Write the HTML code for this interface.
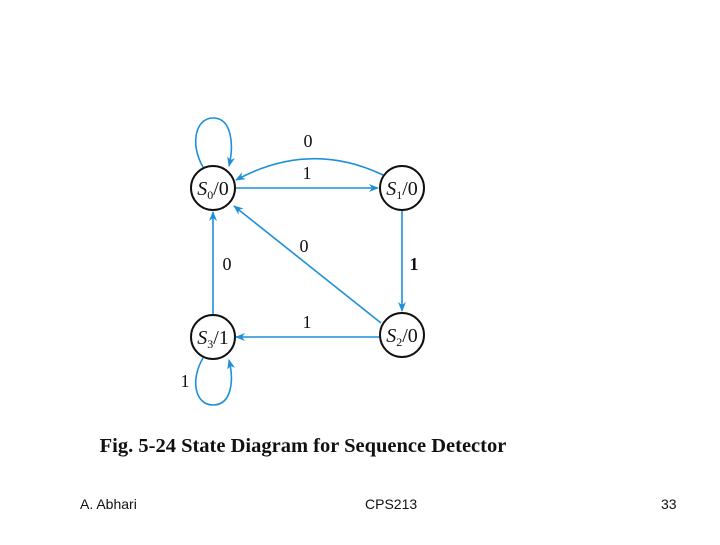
<!DOCTYPE html>
<html><head><style>
body{margin:0;width:720px;height:540px;background:#fff;overflow:hidden;font-family:"Liberation Sans",sans-serif}
</style></head><body>
<svg width="720" height="540" viewBox="0 0 720 540" xmlns="http://www.w3.org/2000/svg">
<defs><marker id="a" markerWidth="10" markerHeight="8" refX="9" refY="4" orient="auto" markerUnits="userSpaceOnUse"><path d="M0,0 L10,4 L0,8 L3,4z" fill="#1e90d8"/></marker></defs>
<g stroke="#1e90d8" stroke-width="1.6" fill="none">
<path d="M236,188 L378,188" marker-end="url(#a)"/>
<path d="M383,175 Q310,140 236,180" marker-end="url(#a)"/>
<path d="M402,211 L402,311" marker-end="url(#a)"/>
<path d="M381,323 L234,206" marker-end="url(#a)"/>
<path d="M380,337 L236,337" marker-end="url(#a)"/>
<path d="M213,314 L213,212" marker-end="url(#a)"/>
<path d="M203,167 C190,145 195,118 213,118 C232,118 234,145 229,166" marker-end="url(#a)"/>
<path d="M203,358 C190,380 195,405 213,405 C232,405 234,380 229,360" marker-end="url(#a)"/>
</g>
<g stroke="#111" stroke-width="2" fill="#fff">
<circle cx="213" cy="188" r="22"/><circle cx="402" cy="188" r="22"/>
<circle cx="402" cy="335" r="22"/><circle cx="213" cy="337" r="22"/>
</g>
<g font-family="Liberation Serif,serif" font-size="20" fill="#111" text-anchor="middle">
<text x="213" y="195"><tspan font-style="italic">S</tspan><tspan font-size="12" dy="4">0</tspan><tspan dy="-4">/0</tspan></text>
<text x="402" y="195"><tspan font-style="italic">S</tspan><tspan font-size="12" dy="4">1</tspan><tspan dy="-4">/0</tspan></text>
<text x="402" y="342"><tspan font-style="italic">S</tspan><tspan font-size="12" dy="4">2</tspan><tspan dy="-4">/0</tspan></text>
<text x="213" y="344"><tspan font-style="italic">S</tspan><tspan font-size="12" dy="4">3</tspan><tspan dy="-4">/1</tspan></text>
<g font-size="18"><text x="308" y="147">0</text><text x="307" y="179">1</text><text x="304" y="252">0</text>
<text x="414" y="270" font-weight="bold">1</text><text x="227" y="270">0</text><text x="307" y="328">1</text><text x="185" y="387">1</text></g>
<text x="303" y="452" font-size="20.5" font-weight="bold">Fig. 5-24  State Diagram for Sequence Detector</text>
</g>
<g font-size="14" fill="#111">
<text x="80" y="509">A. Abhari</text>
<text x="365" y="509">CPS213</text>
<text x="661" y="509">33</text>
</g>
</svg>
</body></html>
